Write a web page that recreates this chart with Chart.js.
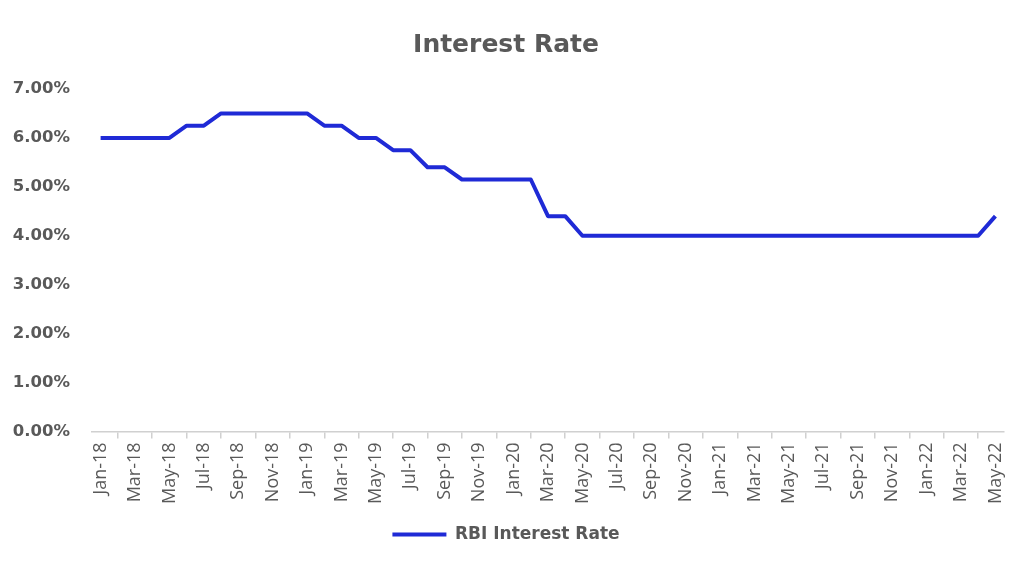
<!DOCTYPE html>
<html>
<head>
<meta charset="utf-8">
<title>Interest Rate</title>
<script src="https://cdn.jsdelivr.net/npm/chart.js@4/dist/chart.umd.min.js"></script>
<style>
    html, body { margin: 0; padding: 0; background: #fff; }
    #wrap { width: 1024px; height: 574px; }
</style>
</head>
<body>
<div id="wrap"><canvas id="rate-chart"></canvas></div>
<script>
// 月份标签 Jan-18 ... May-22
const months = [
    'Jan-18', 'Feb-18', 'Mar-18', 'Apr-18', 'May-18', 'Jun-18', 'Jul-18', 'Aug-18', 'Sep-18', 'Oct-18', 'Nov-18', 'Dec-18',
    'Jan-19', 'Feb-19', 'Mar-19', 'Apr-19', 'May-19', 'Jun-19', 'Jul-19', 'Aug-19', 'Sep-19', 'Oct-19', 'Nov-19', 'Dec-19',
    'Jan-20', 'Feb-20', 'Mar-20', 'Apr-20', 'May-20', 'Jun-20', 'Jul-20', 'Aug-20', 'Sep-20', 'Oct-20', 'Nov-20', 'Dec-20',
    'Jan-21', 'Feb-21', 'Mar-21', 'Apr-21', 'May-21', 'Jun-21', 'Jul-21', 'Aug-21', 'Sep-21', 'Oct-21', 'Nov-21', 'Dec-21',
    'Jan-22', 'Feb-22', 'Mar-22', 'Apr-22', 'May-22'
];

// RBI 利率 (%)
const rbiRate = [
    6.00, 6.00, 6.00, 6.00, 6.00, 6.25, 6.25, 6.50, 6.50, 6.50, 6.50, 6.50,
    6.50, 6.25, 6.25, 6.00, 6.00, 5.75, 5.75, 5.40, 5.40, 5.15, 5.15, 5.15,
    5.15, 5.15, 4.40, 4.40, 4.00, 4.00, 4.00, 4.00, 4.00, 4.00, 4.00, 4.00,
    4.00, 4.00, 4.00, 4.00, 4.00, 4.00, 4.00, 4.00, 4.00, 4.00, 4.00, 4.00,
    4.00, 4.00, 4.00, 4.00, 4.40
];

// y轴刻度
const yTicks = [0, 1, 2, 3, 4, 5, 6, 7];

const seriesName = 'RBI Interest Rate';
const chartTitle = 'Interest Rate';
const lineColor = '#1f2ad6';
const textColor = '#595959';

const ctx = document.getElementById('rate-chart');

new Chart(ctx, {
    type: 'line',
    data: {
        labels: months,
        datasets: [{
            label: seriesName,
            data: rbiRate,
            borderColor: lineColor,
            backgroundColor: lineColor,
            borderWidth: 4,
            pointRadius: 0,
            tension: 0,
            borderJoinStyle: 'round'
        }]
    },
    options: {
        responsive: true,
        maintainAspectRatio: false,
        animation: false,
        layout: {
            padding: { top: 30, left: 8, right: 20, bottom: 21 }
        },
        plugins: {
            title: {
                display: true,
                text: chartTitle,
                color: textColor,
                font: { family: '"DejaVu Sans", sans-serif', size: 25, weight: 'bold' },
                padding: { top: 0, bottom: 29 }
            },
            legend: {
                position: 'bottom',
                labels: {
                    color: textColor,
                    font: { family: '"DejaVu Sans", sans-serif', size: 17, weight: 'bold' },
                    boxWidth: 54,
                    boxHeight: 4,
                    padding: 18,
                    generateLabels: (chart) => {
                        const items = Chart.defaults.plugins.legend.labels.generateLabels(chart);
                        items.forEach(it => { it.lineWidth = 0; it.fillStyle = lineColor; });
                        return items;
                    }
                }
            },
            tooltip: { enabled: false }
        },
        scales: {
            x: {
                offset: true,
                grid: {
                    offset: true,
                    drawOnChartArea: false,
                    drawTicks: true,
                    tickLength: 7,
                    color: '#d0d0d0',
                    lineWidth: 1.5
                },
                border: { color: '#d0d0d0', width: 1.5 },
                ticks: {
                    autoSkip: false,
                    minRotation: 90,
                    maxRotation: 90,
                    color: textColor,
                    font: { family: '"Open Sans", sans-serif', size: 18 },
                    padding: 4,
                    // 每隔两个月显示一个标签
                    callback: function (value, index) {
                        return index % 2 === 0 ? months[index] : null;
                    }
                }
            },
            y: {
                min: 0,
                max: 7,
                afterBuildTicks: (axis) => { axis.ticks = yTicks.map(v => ({ value: v })); },
                afterFit: (axis) => { axis.width = 84; },
                grid: { display: false, drawTicks: false },
                border: { display: false },
                ticks: {
                    color: textColor,
                    font: { family: '"DejaVu Sans", sans-serif', size: 16.5, weight: 'bold' },
                    padding: 22,
                    callback: (v) => v.toFixed(2) + '%'
                }
            }
        }
    }
});
</script>
</body>
</html>
